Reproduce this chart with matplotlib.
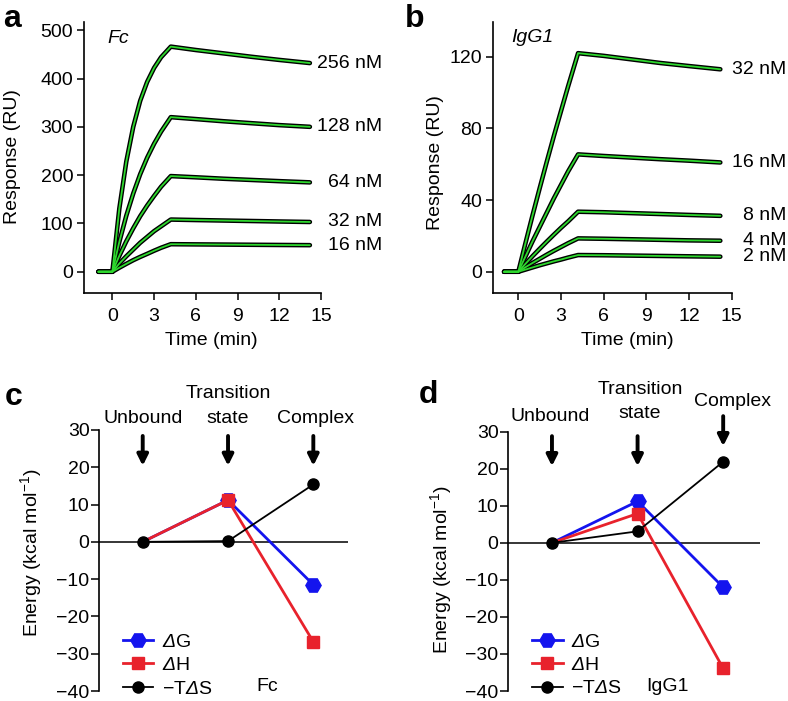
import numpy as np
import matplotlib
matplotlib.use("Agg")
import matplotlib.pyplot as plt

plt.rcParams['font.family'] = ['Liberation Sans', 'DejaVu Sans']
plt.rcParams['mathtext.fontset'] = 'custom'
plt.rcParams['mathtext.rm'] = 'Liberation Sans'
plt.rcParams['mathtext.it'] = 'Liberation Sans:italic'
plt.rcParams['mathtext.sf'] = 'Liberation Sans:italic'  # used for the slanted Delta
plt.rcParams['mathtext.bf'] = 'Liberation Sans:bold'
plt.rcParams['font.size'] = 14

# ---- SPR sensorgrams ----
time_pts = [-1.0, 0.0, 0.5, 1.0, 1.5, 2.0, 2.5, 3.0, 3.5, 4.2, 6.0, 8.0, 10.0, 12.0, 14.2]

fc_labels = ['256 nM', '128 nM', '64 nM', '32 nM', '16 nM']
fc_256 = [0, 0, 131, 228, 300, 354, 393, 422, 444, 466, 459, 452, 445, 438.5, 432]
fc_128 = [0, 0, 62, 116, 162, 202, 236, 265, 290, 320, 316, 311.5, 307.5, 303.5, 300]
fc_64 = [0, 0, 33, 63, 90, 115, 137, 157, 176, 198, 195.5, 192.5, 190, 187.5, 185]
fc_32 = [0, 0, 17, 32, 46, 60, 72, 84, 94, 108, 107, 106, 105, 104, 103]
fc_16 = [0, 0, 8.4, 16.3, 23.9, 30.7, 37, 43.5, 49.6, 57, 56.6, 56.2, 55.8, 55.4, 55]

igg_labels = ['32 nM', '16 nM', '8 nM', '4 nM', '2 nM']
igg_32 = [0, 0, 15.9, 31.5, 46.6, 61.4, 75.8, 89.7, 103.5, 122, 120.5, 118.5, 116.5, 114.8, 113]
igg_16 = [0, 0, 8.5, 17, 25, 33, 41, 48.5, 56, 65.5, 64.6, 63.7, 62.8, 62, 61]
igg_8 = [0, 0, 4.4, 8.7, 12.8, 16.8, 20.7, 24.5, 28.1, 33.5, 33.2, 32.7, 32.2, 31.7, 31.2]
igg_4 = [0, 0, 2.5, 4.9, 7.2, 9.5, 11.7, 13.8, 15.9, 18.6, 18.4, 18.1, 17.8, 17.5, 17.3]
igg_2 = [0, 0, 1.2, 2.4, 3.6, 4.7, 5.8, 6.8, 7.9, 9.3, 9.2, 9.0, 8.8, 8.6, 8.4]

# ---- energy diagrams ----
stage_x = [1, 2, 3]
fc_dG = [0, 11.2, -11.5]
fc_dH = [0, 11.2, -26.8]
fc_TdS = [0, 0.2, 15.4]
igg_dG = [0, 11.2, -12.0]
igg_dH = [0, 7.9, -33.9]
igg_TdS = [0, 3.1, 21.9]

W, H = 788, 701
fig = plt.figure(figsize=(W / 100, H / 100), dpi=100)

def box(l, t, r, b):
    return [l / W, 1 - b / H, (r - l) / W, (b - t) / H]

axa = fig.add_axes(box(84.3, 22, 321, 292.5))
axb = fig.add_axes(box(493.3, 22, 731.7, 292.5))
axc = fig.add_axes(box(99.3, 430, 348.3, 691))
axd = fig.add_axes(box(508.3, 431.7, 760, 691))

green = '#2ed82e'

def sensorgram(ax, curves, labels, xlim, ylim, yticks, lab_x):
    for y, lab in zip(curves, labels):
        ax.plot(time_pts, y, color='k', lw=3.3, solid_capstyle='round', zorder=2)
        ax.plot(time_pts, y, color=green, lw=1.3, solid_capstyle='round', zorder=3)
        ax.text(lab_x, y[-1], lab, ha='right', va='center', clip_on=False)
    ax.set_xlim(*xlim)
    ax.set_ylim(*ylim)
    ax.set_xticks([0, 3, 6, 9, 12, 15])
    ax.set_yticks(yticks)
    for s in ['top', 'right']:
        ax.spines[s].set_visible(False)
    for s in ['left', 'bottom']:
        ax.spines[s].set_linewidth(1.2)
    ax.tick_params(axis='both', direction='out', length=5, width=1.1)
    ax.tick_params(axis='y', pad=3)
    ax.tick_params(axis='x', pad=6.5)
    ax.set_xlabel('Time (min)')
    ax.set_ylabel('Response (RU)')

sensorgram(axa, [fc_256, fc_128, fc_64, fc_32, fc_16], fc_labels,
           (-2.02, 15), (-43, 517), [0, 100, 200, 300, 400, 500], 19.43)
sensorgram(axb, [igg_32, igg_16, igg_8, igg_4, igg_2], igg_labels,
           (-1.76, 15), (-11.6, 139.4), [0, 40, 80, 120], 18.87)

axa.xaxis.set_label_coords(0.535, -0.176)
axb.xaxis.set_label_coords(0.561, -0.176)
axa.yaxis.set_label_coords(-0.303, 0.502)
axb.yaxis.set_label_coords(-0.242, 0.48)
for ax in (axa, axb):
    ax.xaxis.label.set_va('center')
    ax.yaxis.label.set_va('center')

fig.text(107 / W, 1 - 43.3 / H, 'Fc', style='italic', va='baseline', ha='left')
fig.text(511.7 / W, 1 - 42 / H, 'IgG1', style='italic', va='baseline', ha='left')

blue = '#1414ee'
red = '#e8222c'
D = r'$\mathsf{\Delta}$'

def energy(ax, dG, dH, TdS, name, name_x, texts, arrows):
    ax.axhline(0, color='k', lw=1.1, zorder=1)
    ax.plot(stage_x, dG, color=blue, lw=2, marker='H', ms=11, mec=blue, mfc=blue,
            markevery=[1, 2], label=D + 'G', zorder=3)
    ax.plot(stage_x, dH, color=red, lw=2, marker='s', ms=8.5, mec=red, mfc=red,
            markevery=[1, 2], label=D + 'H', zorder=4)
    ax.plot(stage_x, TdS, color='k', lw=1.3, marker='o', ms=8, mec='k', mfc='k',
            label='\u2212T' + D + 'S', zorder=5)
    ax.set_ylim(-40, 30)
    ax.set_yticks([-40, -30, -20, -10, 0, 10, 20, 30])
    for s in ['top', 'right', 'bottom']:
        ax.spines[s].set_visible(False)
    ax.spines['left'].set_linewidth(1.2)
    ax.set_xticks([])
    ax.tick_params(axis='y', direction='out', length=5.5, width=1.1, pad=1.5)
    ax.set_ylabel('Energy (kcal mol$^{-1}$)')
    ax.yaxis.label.set_va('center')
    for x, y, s in texts:
        ax.text(x, y, s, ha='center', va='center', clip_on=False)
    for x, tail, tip in arrows:
        ax.annotate('', xy=(x, tip), xytext=(x, tail), annotation_clip=False,
                    arrowprops=dict(arrowstyle='-|>', color='k', lw=2.8,
                                    mutation_scale=16, shrinkA=0, shrinkB=0))
    ax.legend(loc='lower left', bbox_to_anchor=(0.094, -0.025), frameon=False,
              borderpad=0, handlelength=1.58, handletextpad=0.45,
              labelspacing=0.3, borderaxespad=0)
    ax.text(name_x, -38.9, name, ha='center', va='center')

energy(axc, fc_dG, fc_dH, fc_TdS, 'Fc', 2.457,
       [(1, 33.1, 'Unbound'), (2, 39.8, 'Transition'), (2, 33.1, 'state'),
        (3.02, 33.1, 'Complex')],
       [(1, 28.4, 20.4), (2, 28.4, 20.4), (3, 28.4, 20.4)])
axc.set_xlim(0.491, 3.41)
axc.yaxis.set_label_coords(-0.275, 0.529)

energy(axd, igg_dG, igg_dH, igg_TdS, 'IgG1', 2.348,
       [(0.977, 34.2, 'Unbound'), (2.03, 41.3, 'Transition'), (2.03, 35.0, 'state'),
        (3.11, 38.1, 'Complex')],
       [(1, 28.8, 20.7), (2, 28.8, 20.7), (3, 34.2, 26.1)])
axd.set_xlim(0.49, 3.43)
axd.yaxis.set_label_coords(-0.268, 0.467)

for x, y, s in [(3.3, 27.3, 'a'), (405, 27.3, 'b'), (5, 405, 'c'), (418.3, 403.3, 'd')]:
    fig.text(x / W, 1 - y / H, s, fontsize=23, fontweight='bold', va='baseline', ha='left')

fig.savefig('out.png', dpi=100)
